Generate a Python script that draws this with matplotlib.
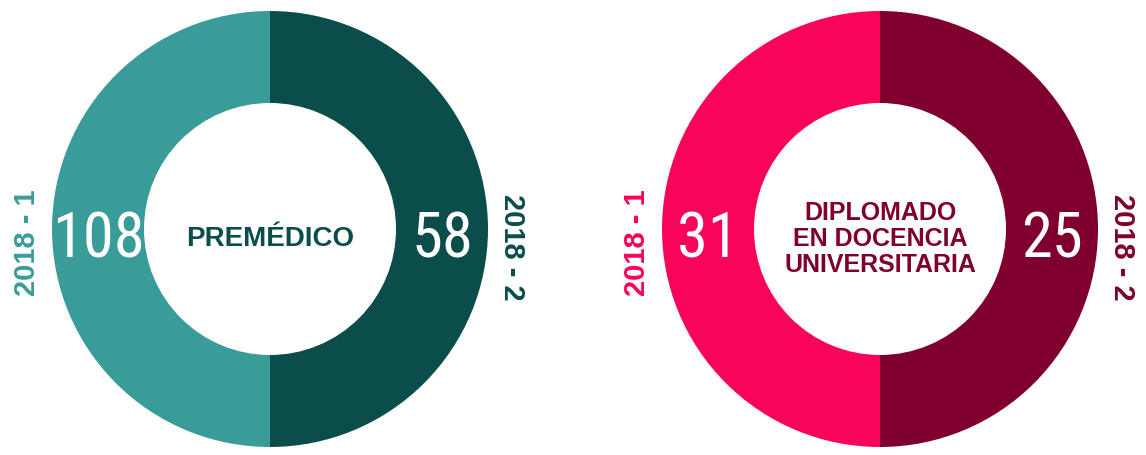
import numpy as np
import matplotlib
matplotlib.use("Agg")
import matplotlib.pyplot as plt
from matplotlib import font_manager

# data
semesters = ["2018 - 1", "2018 - 2"]
programs = ["PREMÉDICO", "DIPLOMADO\nEN DOCENCIA\nUNIVERSITARIA"]
premedico = [108, 58]
diplomado = [31, 25]

teal_colors = ["#3a9c98", "#0b4d4b"]
rose_colors = ["#f8045a", "#7f002f"]

W, H = 1146, 455
R_OUT, R_IN = 218, 126


def pick_font(candidates):
    names = {f.name for f in font_manager.fontManager.ttflist}
    for c in candidates:
        if c in names:
            return c
    return "DejaVu Sans"


narrow = pick_font(["Liberation Sans Narrow", "Roboto Condensed", "Liberation Sans"])
bold = pick_font(["Liberation Sans", "Roboto", "DejaVu Sans"])


def donut(ax, cx, cy, values, colors, title, title_size):
    # the ring is split in equal halves, one per semester
    ax.pie(np.ones(len(values)), center=(cx, cy), radius=R_OUT, colors=colors,
           startangle=90, counterclock=True,
           wedgeprops=dict(width=R_OUT - R_IN, linewidth=0))
    mid = (R_OUT + R_IN) / 2
    for sign, v in zip([-1, 1], values):
        ax.text(cx + sign * mid, cy - 12, str(v), color="white", fontsize=45,
                family=narrow, ha="center", va="center")
    ax.text(cx, cy - 10, title, color=colors[1], fontsize=title_size,
            family=bold, weight="bold", ha="center", va="center",
            linespacing=1.12)
    ax.text(cx - R_OUT - 25, cy - 14, semesters[0], color=colors[0], fontsize=21,
            family=bold, weight="bold", rotation=90, ha="center", va="center")
    ax.text(cx + R_OUT + 24, cy - 18, semesters[1], color=colors[1], fontsize=21,
            family=bold, weight="bold", rotation=-90, ha="center", va="center")


fig = plt.figure(figsize=(W / 100, H / 100), dpi=100)
ax = fig.add_axes([0, 0, 1, 1])
donut(ax, 270, H - 229, premedico, teal_colors, programs[0], 20)
donut(ax, 880, H - 229, diplomado, rose_colors, programs[1], 18)
ax.set_xlim(0, W)
ax.set_ylim(0, H)
ax.set_aspect("equal")
ax.axis("off")

fig.savefig("out.png", dpi=100)
